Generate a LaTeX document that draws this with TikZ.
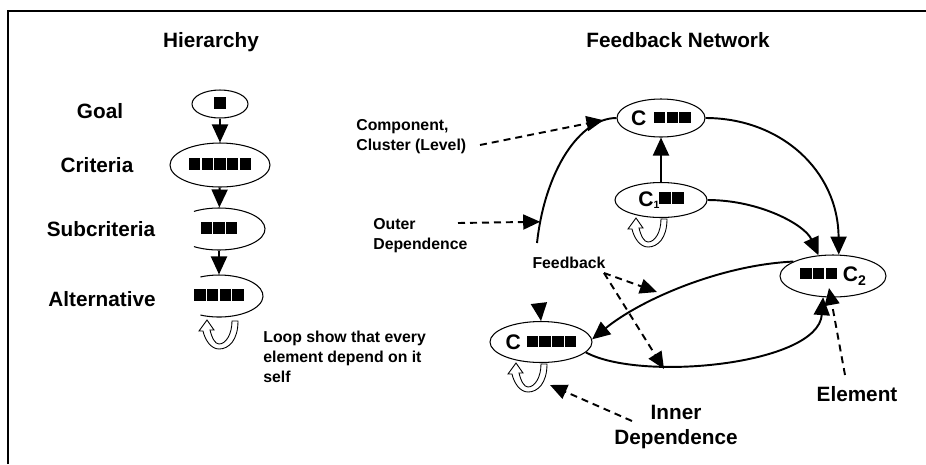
\documentclass[tikz,border=0pt]{standalone}
\usepackage{fontspec}
\setmainfont{Liberation Sans}
\usetikzlibrary{arrows.meta,calc,positioning,shapes.geometric}
\def\pxu{0.02cm}
\def\sqsize{0.23cm}
\def\elem{\raisebox{1.2pt}{\rule{\sqsize}{\sqsize}}}
\def\gap{\kern0.7pt}

\tikzset{
  cluster/.style={ellipse, draw, line width=0.6pt, inner sep=0pt,
    font=\fontsize{12}{14}\selectfont\bfseries},
  level/.style={font=\fontsize{11.8}{14.2}\selectfont\bfseries, align=center},
  note/.style={font=\fontsize{9}{11.4}\selectfont\bfseries, align=left, inner sep=0pt},
  link/.style={line width=1.1pt},
  dep/.style={line width=1.1pt, -{Triangle[length=0.36cm,width=0.32cm]}},
  pointer/.style={line width=1.1pt, dash pattern=on 0.14cm off 0.1cm,
    -{Triangle[length=0.34cm,width=0.3cm]}},
  selfloop/.pic={
    \draw[line width=0.5pt, fill=white] (33,1) -- (39,1)
      .. controls (39,20) and (30,29) .. (20,29)
      .. controls (12,29) and (6,20) .. (4,11) -- (0,11) -- (8,0) -- (15,10) -- (11,10)
      .. controls (13,18) and (16,24) .. (20,24)
      .. controls (27,24) and (33,14) .. (33,1) -- cycle;
  }
}

\begin{document}
\begin{tikzpicture}[x=0.02cm, y=-0.02cm]
  \useasboundingbox (0,0) rectangle (926,464);
  \draw[line width=1.4pt] (8,464) -- (8,11) -- (926,11);

  % Hierarchy
  \node[level, anchor=base] (hier) at (211,47) {Hierarchy};
  \node[level, anchor=base] (lgoal) at (100,118) {Goal};
  \node[level, anchor=base] (lcrit) at (97,172) {Criteria};
  \node[level, anchor=base] (lsub) at (101,236) {Subcriteria};
  \node[level, anchor=base] (lalt) at (102,306) {Alternative};

  \node[cluster, minimum width=56*\pxu, minimum height=28*\pxu] (goal) at (220,104) {\elem};
  \node[cluster, minimum width=100*\pxu, minimum height=44*\pxu] (crit) at (220,165)
    {\elem\gap\elem\gap\elem\gap\elem\gap\elem};
  \node[cluster, draw=none, minimum width=92*\pxu, minimum height=42*\pxu] (sub) at (219,229)
    {\elem\gap\elem\gap\elem};
  \node[cluster, draw=none, minimum width=88*\pxu, minimum height=42*\pxu] (alt) at (219,296)
    {\elem\gap\elem\gap\elem\gap\elem};
  \draw[line width=0.6pt] ($(sub.center)+(123:46 and 21)$) arc[start angle=123, end angle=-123, x radius=46, y radius=21];
  \draw[line width=0.6pt] ($(alt.center)+(115:44 and 21)$) arc[start angle=115, end angle=-115, x radius=44, y radius=21];

  \draw[dep] (goal) -- (crit);
  \draw[dep] (crit) -- (sub);
  \draw[dep] (sub) -- (alt);
  \pic (altloop) at (199,320) {selfloop};

  \node[note, anchor=north west] (loopnote) at (263,331) {Loop show that every\\element depend on it\\self};

  % Feedback network
  \node[level, anchor=base] (fbnet) at (678,47) {Feedback Network};

  \node[cluster, minimum width=88*\pxu, minimum height=38*\pxu] (ctop) at (661,118)
    {C\hspace{0.15cm}\elem\gap\elem\gap\elem};
  \node[cluster, minimum width=92*\pxu, minimum height=35*\pxu] (cone) at (661,200)
    {C\raisebox{-1.5pt}{\fontsize{6}{6}\selectfont 1}\elem\gap\elem};
  \node[cluster, minimum width=106*\pxu, minimum height=42*\pxu] (ctwo) at (833,276)
    {\elem\gap\elem\gap\elem\ C\raisebox{-2.5pt}{\fontsize{8}{8}\selectfont 2}};
  \node[cluster, minimum width=102*\pxu, minimum height=41*\pxu] (cthree) at (541,342)
    {C \elem\gap\elem\gap\elem\gap\elem};

  \pic (oneloop) at (628,218) {selfloop};
  \pic (threeloop) at (508,363) {selfloop};

  \draw[dep] (cone) -- (ctop);
  \coordinate (archfoot) at (537,243);
  \draw[link] (archfoot) .. controls (545,170) and (580,118) .. (ctop.west)
    coordinate[pos=0.1] (archlow) coordinate[pos=0.88] (archtop);
  \draw[dep] (ctop.east) .. controls (780,118) and (838,170) .. (ctwo.75);
  \draw[dep] (cone.east) .. controls (760,200) and (805,225) .. (ctwo.125);
  \draw[dep] (ctwo.160) .. controls (720,265) and (640,300) .. (cthree.3);
  \draw[dep] (cthree.-13) .. controls (640,382) and (818,365) .. (ctwo.-115);
  \coordinate (stub) at (539,304);
  \draw[dep] (stub) -- (cthree.north);

  % labels and pointers
  \node[note, anchor=north west] (comp) at (356,119) {Component,\\Cluster (Level)};
  \node[note, anchor=north west] (outer) at (373,218) {Outer\\Dependence};
  \node[note, anchor=base] (fb) at (569,268) {Feedback};
  \node[level, anchor=north] (inner) at (676,399) {Inner\\Dependence};
  \node[level, anchor=base] (element) at (857,401) {Element};

  \coordinate (compend) at (480,145);
  \coordinate (outerend) at (458,223);
  \coordinate (fbend) at (604,273);
  \coordinate (fbtipa) at (657,292);
  \coordinate (fbtipb) at (664,369);
  \coordinate (innerend) at (632,421);
  \coordinate (innertip) at (550,385);
  \coordinate (elemend) at (845,375);
  \coordinate (elemtip) at (829,288);

  \draw[pointer] (compend) -- (archtop);
  \draw[pointer] (outerend) -- (archlow);
  \draw[pointer] (fbend) -- (fbtipa);
  \draw[pointer] (fbend) -- (fbtipb);
  \draw[pointer] (innerend) -- (innertip);
  \draw[pointer] (elemend) -- (elemtip);
\end{tikzpicture}
\end{document}
